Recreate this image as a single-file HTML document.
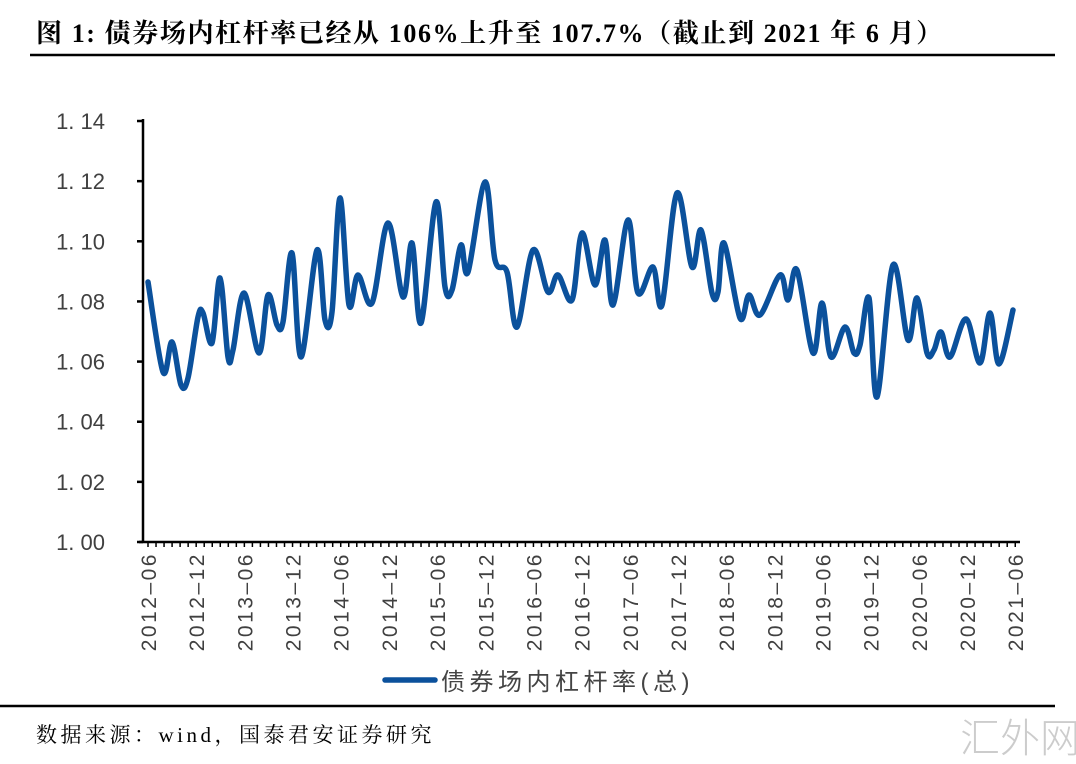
<!DOCTYPE html>
<html><head><meta charset="utf-8"><style>
body{margin:0;width:1076px;height:754px;background:#fff;overflow:hidden;position:relative;font-family:"Liberation Serif","Noto Serif CJK SC",serif}
.t{position:absolute;left:36px;top:13px;font-size:26px;font-weight:bold;color:#000;white-space:nowrap;letter-spacing:1.6px}
.src{position:absolute;left:36px;top:719px;font-size:21px;color:#000;white-space:nowrap;letter-spacing:3.5px}
.wm{position:absolute;left:960px;top:706px;font-size:40px;color:#ccc;white-space:nowrap;font-family:"Liberation Sans","Noto Sans CJK SC",sans-serif;font-weight:300}
</style></head><body>
<div class="t">图 1:  债券场内杠杆率已经从 106%上升至 107.7%（截止到 2021 年 6 月）</div>
<svg width="1076" height="754" style="position:absolute;left:0;top:0">
<line x1="30" y1="55" x2="1055" y2="55" stroke="#000" stroke-width="2.5"/>
<line x1="0" y1="706" x2="1055" y2="706" stroke="#000" stroke-width="2.5"/>
<g id="ax" stroke="#000" stroke-width="2.5"></g>
<g id="lb" font-family="'Liberation Sans','DejaVu Sans',sans-serif" fill="#404040"></g>
<path id="ln" fill="none" stroke="#0b519c" stroke-width="5.5" stroke-linejoin="round" stroke-linecap="round"/>
<line x1="385" y1="680" x2="435" y2="680" stroke="#0b519c" stroke-width="5.5" stroke-linecap="round"/>
<text x="441" y="690" font-family="'Liberation Sans','Noto Sans CJK SC',sans-serif" font-size="24" letter-spacing="4.5" fill="#444">债券场内杠杆率(总)</text>
</svg>
<div class="src">数据来源：wind，国泰君安证券研究</div>
<div class="wm">汇外网</div>
<script>
var ns="http://www.w3.org/2000/svg",ax=document.getElementById('ax'),lb=document.getElementById('lb');
function el(p,t,a){var e=document.createElementNS(ns,t);for(var k in a)e.setAttribute(k,a[k]);p.appendChild(e);return e;}
el(ax,'line',{x1:143,y1:119,x2:143,y2:543});
el(ax,'line',{x1:139,y1:542,x2:1020,y2:542});
for(var i=0;i<=7;i++){var y=542-i*60.14;el(ax,'line',{x1:137,y1:y,x2:143,y2:y});
var t=el(lb,'text',{x:105,y:y+8,'text-anchor':'end','font-size':22});t.textContent=(1+i*0.02).toFixed(2).replace('.','. ');}
for(var m=0;m<=108;m++){var x=148+m*8.03;el(ax,'line',{x1:x,y1:542,x2:x,y2:547,'stroke-width':1.5});}
var yrs=['2012-06','2012-12','2013-06','2013-12','2014-06','2014-12','2015-06','2015-12','2016-06','2016-12','2017-06','2017-12','2018-06','2018-12','2019-06','2019-12','2020-06','2020-12','2021-06'];
for(var k=0;k<yrs.length;k++){var x=148+k*6*8.03+8;var t=el(lb,'text',{x:0,y:0,'text-anchor':'end','font-size':21,'letter-spacing':2.5,transform:'translate('+x+',552) rotate(-90)'});t.textContent=yrs[k].replace('-','–');}
var p=[[148,282],[163,372],[172,342],[181,385],[188,378],[198,317],[203,313],[212,343],[220,278],[228,357],[233,350],[244,293],[259,353],[268,295],[277,325],[283,322],[292,253],[301,357],[317,250],[325,320],[332,312],[340,198],[349,305],[358,275],[372,303],[388,223],[403,297],[412,243],[421,323],[436,202],[445,287],[452,290],[461,245],[468,272],[485,182],[495,260],[507,272],[517,327],[533,250],[548,292],[558,275],[572,300],[582,233],[595,285],[605,240],[613,305],[628,220],[638,293],[653,267],[662,305],[677,193],[692,267],[701,230],[712,293],[718,292],[724,243],[740,318],[749,295],[760,315],[780,275],[788,300],[797,270],[813,353],[822,303],[831,357],[845,327],[854,353],[860,345],[869,298],[877,397],[893,265],[908,340],[917,298],[927,353],[934,350],[941,332],[950,357],[966,319],[980,363],[990,313],[999,364],[1013,310]];
var d='M'+p[0][0]+','+p[0][1];
for(var i=0;i<p.length-1;i++){var a=p[i>0?i-1:0],b=p[i],c=p[i+1],e=p[i+2<p.length?i+2:i+1];
d+='C'+(b[0]+(c[0]-a[0])/6)+','+(b[1]+(c[1]-a[1])/6)+' '+(c[0]-(e[0]-b[0])/6)+','+(c[1]-(e[1]-b[1])/6)+' '+c[0]+','+c[1];}
document.getElementById('ln').setAttribute('d',d);
</script>
</body></html>
